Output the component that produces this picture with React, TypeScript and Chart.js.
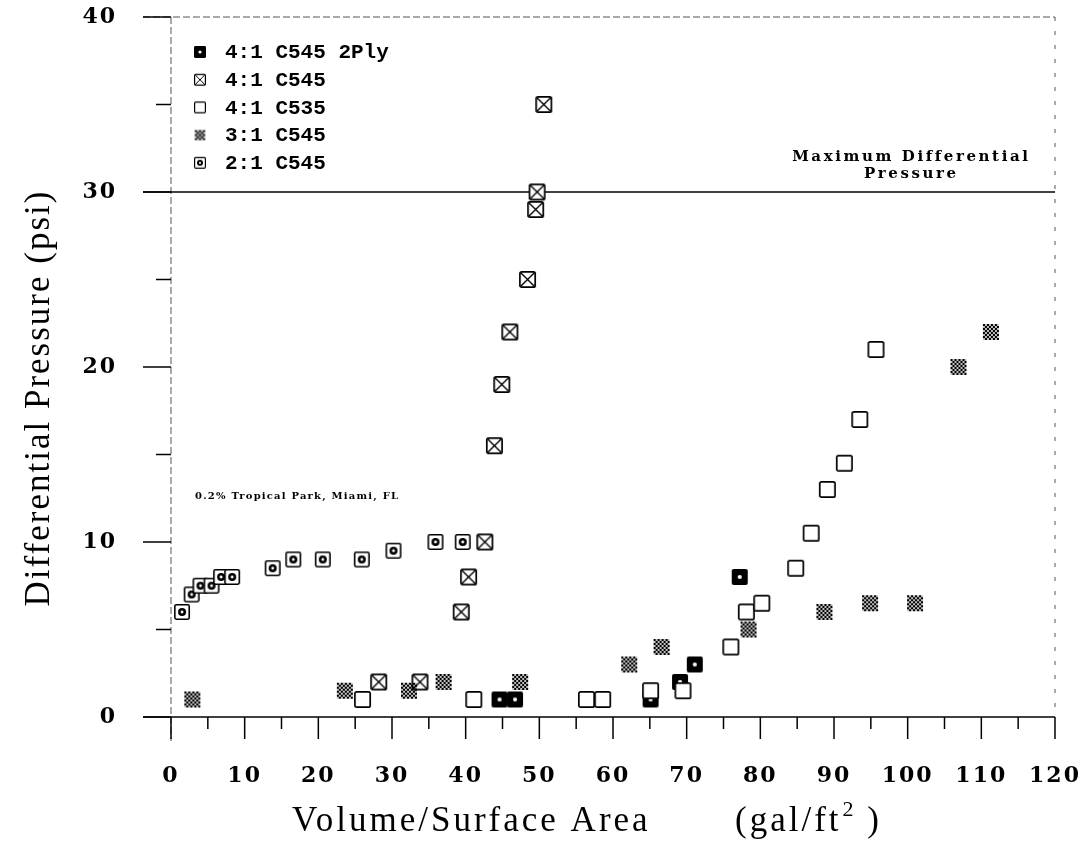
import React, { useEffect, useRef } from "react";
import { Chart, registerables } from "chart.js";

Chart.register(...registerables);

// ---- data ----
const SERIES = ["4:1 C545 2Ply", "4:1 C545", "4:1 C535", "3:1 C545", "2:1 C545"];

const ply2X = [44.6, 46.7, 65.1, 69.1, 71.1, 77.2];
const ply2Y = [1, 1, 1, 2, 3, 8];

const c545X = [28.2, 33.8, 39.4, 40.4, 42.6, 43.9, 44.9, 46.0, 48.4, 49.5, 49.7, 50.6];
const c545Y = [2, 2, 6, 8, 10, 15.5, 19, 22, 25, 29, 30, 35];

const c535X = [26.0, 41.1, 56.4, 58.6, 65.1, 69.5, 76.0, 78.1, 80.2, 84.8, 86.9, 89.1, 91.4, 93.5, 95.7];
const c535Y = [1, 1, 1, 1, 1.5, 1.5, 4, 6, 6.5, 8.5, 10.5, 13, 14.5, 17, 21];

const r3X = [2.9, 23.6, 32.3, 37.0, 47.4, 62.2, 66.6, 78.4, 88.7, 94.9, 101.0, 106.9, 111.3];
const r3Y = [1, 1.5, 1.5, 2, 2, 3, 4, 5, 6, 6.5, 6.5, 20, 22];

const r2X = [1.5, 2.8, 4.0, 5.5, 6.8, 8.3, 13.8, 16.6, 20.6, 25.9, 30.2, 35.9, 39.6];
const r2Y = [6, 7, 7.5, 7.5, 8, 8, 8.5, 9, 9, 9, 9.5, 10, 10];

const X_MIN = 0, X_MAX = 120, X_STEP = 10;
const Y_MIN = 0, Y_MAX = 40, Y_STEP = 10;
const LIMIT = 30;
const LIMIT_LABEL = ["Maximum Differential", "Pressure"];
const SITE_LABEL = "0.2% Tropical Park, Miami, FL";
const X_TITLE_A = "Volume/Surface Area";
const X_TITLE_B = "(gal/ft";
const X_TITLE_SUP = "2";
const X_TITLE_C = " )";
const Y_TITLE = "Differential Pressure (psi)";

type Kind = "ply" | "xbox" | "box" | "check" | "dot";
const KINDS: Kind[] = ["ply", "xbox", "box", "check", "dot"];

function makeMarker(kind: Kind, s: number): HTMLCanvasElement {
  const pad = 1;
  const c = document.createElement("canvas");
  c.width = s + pad * 2;
  c.height = s + pad * 2;
  const g = c.getContext("2d")!;
  g.translate(pad, pad);
  const lw = Math.max(1.2, s * 0.1);
  if (kind === "check") {
    const cell = 2;
    const n = Math.floor(s / cell);
    const off = (s - n * cell) / 2;
    g.fillStyle = "#000";
    for (let i = 0; i < n; i++)
      for (let j = 0; j < n; j++)
        if ((i + j) % 2 === 0) g.fillRect(off + i * cell, off + j * cell, cell, cell);
    g.fillStyle = "rgba(0,0,0,0.25)";
    g.fillRect(off, off, n * cell, n * cell);
    return c;
  }
  if (kind === "ply") {
    g.beginPath();
    g.roundRect(0, 0, s, s, s * 0.12);
    g.fillStyle = "#000";
    g.fill();
    g.beginPath();
    g.arc(s / 2, s / 2, s * 0.13, 0, Math.PI * 2);
    g.fillStyle = "#fff";
    g.fill();
    return c;
  }
  g.beginPath();
  g.roundRect(lw / 2, lw / 2, s - lw, s - lw, s * 0.1);
  g.fillStyle = "#fff";
  g.fill();
  g.lineWidth = lw;
  g.strokeStyle = "#000";
  g.stroke();
  if (kind === "xbox") {
    const i = lw;
    g.beginPath();
    g.moveTo(i, i);
    g.lineTo(s - i, s - i);
    g.moveTo(s - i, i);
    g.lineTo(i, s - i);
    g.lineWidth = lw * 0.8;
    g.stroke();
  }
  if (kind === "dot") {
    g.beginPath();
    g.arc(s / 2, s / 2, s * 0.25, 0, Math.PI * 2);
    g.fillStyle = "#000";
    g.fill();
    g.beginPath();
    g.arc(s / 2, s / 2, s * 0.09, 0, Math.PI * 2);
    g.fillStyle = "#fff";
    g.fill();
  }
  return c;
}

function line(ctx: CanvasRenderingContext2D, x1: number, y1: number, x2: number, y2: number) {
  ctx.beginPath();
  ctx.moveTo(x1, y1);
  ctx.lineTo(x2, y2);
  ctx.stroke();
}

export default function App() {
  const ref = useRef<HTMLCanvasElement>(null);

  useEffect(() => {
    const canvas = ref.current!;
    const big = {
      ply: makeMarker("ply", 16),
      xbox: makeMarker("xbox", 17),
      box: makeMarker("box", 17),
      check: makeMarker("check", 16),
      dot: makeMarker("dot", 16),
    };
    const small = {
      ply: makeMarker("ply", 12),
      xbox: makeMarker("xbox", 12),
      box: makeMarker("box", 12),
      check: makeMarker("check", 11),
      dot: makeMarker("dot", 12),
    };

    const pts = (xs: number[], ys: number[]) => xs.map((x, i) => ({ x, y: ys[i] }));
    const xsAll = [ply2X, c545X, c535X, r3X, r2X];
    const ysAll = [ply2Y, c545Y, c535Y, r3Y, r2Y];
    const orders = [5, 4, 3, 1, 2];

    const decor = {
      id: "decor",
      beforeDraw(chart: any) {
        const ctx = chart.ctx as CanvasRenderingContext2D;
        ctx.save();
        ctx.fillStyle = "#fff";
        ctx.fillRect(0, 0, chart.width, chart.height);
        ctx.restore();
        (ctx as any).letterSpacing = "2px";
      },
      beforeDatasetsDraw(chart: any) {
        const ctx = chart.ctx as CanvasRenderingContext2D;
        (ctx as any).letterSpacing = "0px";
        const a = chart.chartArea;
        const xs = chart.scales.x;
        const ys = chart.scales.y;
        ctx.save();
        ctx.lineWidth = 1;
        ctx.strokeStyle = "#555";
        ctx.setLineDash([7, 3]);
        line(ctx, a.left - 28, a.top, a.right, a.top);
        line(ctx, a.left, a.top, a.left, a.bottom + 24);
        ctx.setLineDash([4, 10]);
        line(ctx, a.right, a.top, a.right, a.bottom);
        ctx.setLineDash([]);
        ctx.strokeStyle = "#000";
        ctx.lineWidth = 1.5;
        line(ctx, a.left - 28, a.bottom, a.right, a.bottom);
        const yL = ys.getPixelForValue(LIMIT);
        line(ctx, a.left - 28, yL, a.right, yL);
        for (let v = Y_MIN; v <= Y_MAX; v += Y_STEP / 2) {
          const p = ys.getPixelForValue(v);
          const major = v % Y_STEP === 0;
          line(ctx, a.left - (major ? 28 : 15), p, a.left, p);
        }
        for (let v = X_MIN; v <= X_MAX; v += X_STEP / 2) {
          const p = xs.getPixelForValue(v);
          const major = v % X_STEP === 0;
          line(ctx, p, a.bottom, p, a.bottom + (major ? 22 : 12));
        }
        ctx.restore();
      },
      afterDatasetsDraw(chart: any) {
        const ctx = chart.ctx as CanvasRenderingContext2D;
        const a = chart.chartArea;
        const xs = chart.scales.x;
        const ys = chart.scales.y;
        ctx.save();
        ctx.fillStyle = "#000";
        // axis titles
        ctx.font = '35px "Liberation Serif"';
        (ctx as any).letterSpacing = "3px";
        ctx.textAlign = "left";
        ctx.textBaseline = "middle";
        const ty = 822;
        ctx.fillText(X_TITLE_A, 292, ty);
        ctx.fillText(X_TITLE_B, 735, ty);
        const wB = ctx.measureText(X_TITLE_B).width;
        ctx.font = '22px "Liberation Serif"';
        ctx.fillText(X_TITLE_SUP, 735 + wB + 1, ty - 12);
        const wS = ctx.measureText(X_TITLE_SUP).width;
        ctx.font = '35px "Liberation Serif"';
        ctx.fillText(X_TITLE_C, 735 + wB + wS, ty);

        ctx.textAlign = "center";
        (ctx as any).letterSpacing = "2px";
        ctx.save();
        ctx.translate(40, 398);
        ctx.rotate(-Math.PI / 2);
        ctx.fillText(Y_TITLE, 0, 0);
        ctx.restore();

        // limit label
        ctx.font = 'bold 15px "DejaVu Serif"';
        (ctx as any).letterSpacing = "2.6px";
        const yL = ys.getPixelForValue(LIMIT);
        const cx = xs.getPixelForValue(100.5);
        ctx.fillText(LIMIT_LABEL[0], cx, yL - 35);
        ctx.fillText(LIMIT_LABEL[1], cx, yL - 18);

        // site label
        ctx.font = 'bold 10px "DejaVu Serif"';
        (ctx as any).letterSpacing = "1.2px";
        ctx.textAlign = "left";
        ctx.fillText(SITE_LABEL, a.left + 24, ys.getPixelForValue(12.6));

        // legend
        ctx.font = 'bold 21px "Liberation Mono"';
        (ctx as any).letterSpacing = "0px";
        for (let i = 0; i < SERIES.length; i++) {
          const y = a.top + 35 + i * 27.7;
          const m = (small as any)[KINDS[i]] as HTMLCanvasElement;
          ctx.drawImage(m, a.left + 29 - m.width / 2, y - m.height / 2);
          ctx.fillText(SERIES[i], a.left + 54, y + 1);
        }
        ctx.restore();
      },
    };

    const tickFont = { family: "DejaVu Serif", size: 22, weight: "bold" as const };

    const chart = new Chart(canvas, {
      type: "scatter",
      data: {
        datasets: SERIES.map((label, i) => ({
          label,
          data: pts(xsAll[i], ysAll[i]),
          pointStyle: (big as any)[KINDS[i]],
          pointRadius: 8,
          showLine: false,
          order: orders[i],
        })),
      },
      options: {
        animation: false,
        responsive: false,
        devicePixelRatio: 1,
        layout: { padding: { left: 0, right: 27, top: 17, bottom: 0 } },
        plugins: { legend: { display: false }, tooltip: { enabled: false } },
        scales: {
          x: {
            type: "linear",
            min: X_MIN,
            max: X_MAX,
            ticks: { stepSize: X_STEP, font: tickFont, color: "#000", padding: 2, maxRotation: 0 },
            grid: { display: false, drawTicks: true, tickLength: 44 },
            border: { display: false },
            afterFit: (s: any) => {
              s.height = 131;
            },
          },
          y: {
            type: "linear",
            min: Y_MIN,
            max: Y_MAX,
            ticks: { stepSize: Y_STEP, font: tickFont, color: "#000", padding: 3 },
            grid: { display: false, drawTicks: true, tickLength: 51 },
            border: { display: false },
            afterFit: (s: any) => {
              s.width = 171;
            },
          },
        },
      },
      plugins: [decor],
    });
    return () => chart.destroy();
  }, []);

  return (
    <div style={{ position: "absolute", left: 0, top: 0, width: 1082, height: 848, background: "#fff" }}>
      <canvas ref={ref} width={1082} height={848} style={{ display: "block", width: 1082, height: 848 }} />
    </div>
  );
}
